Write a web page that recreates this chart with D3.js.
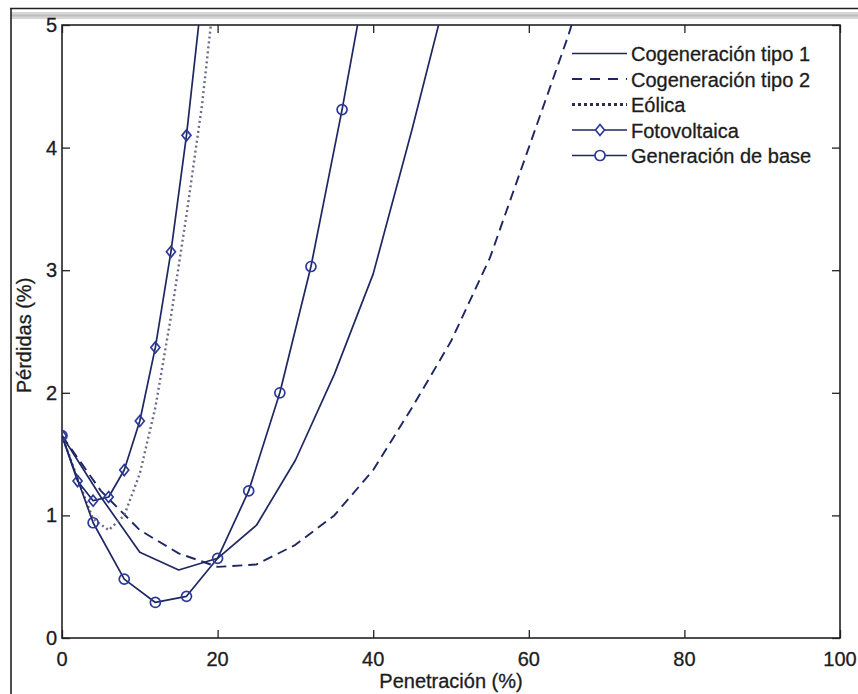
<!DOCTYPE html>
<html>
<head>
<meta charset="utf-8">
<script src="https://cdn.jsdelivr.net/npm/d3@7"></script>
<style>
  body { margin: 0; background: #fff; }
  svg { display: block; }
  text { font-family: "Liberation Sans", Arial, Helvetica, sans-serif; fill: #1c1c1c; stroke: #1c1c1c; stroke-width: 0.3; }
</style>
</head>
<body>
<svg id="chart" width="858" height="694"></svg>
<script>
// --- data ---
var xTicks = [0, 20, 40, 60, 80, 100];
var yTicks = [0, 1, 2, 3, 4, 5];

var penCog1  = [0, 5, 10, 15, 20, 25, 30, 35, 40, 45, 50];
var lossCog1 = [1.65, 1.15, 0.70, 0.555, 0.65, 0.92, 1.45, 2.15, 2.97, 4.15, 5.4];

var penCog2  = [0, 5, 10, 15, 20, 25, 30, 35, 40, 45, 50, 55, 60, 65, 70];
var lossCog2 = [1.65, 1.2, 0.88, 0.69, 0.58, 0.6, 0.76, 1.0, 1.37, 1.88, 2.42, 3.1, 4.0, 4.9, 5.9];

var penEol  = [0, 2, 4, 6, 8, 10, 12, 14, 16, 18, 20];
var lossEol = [1.65, 1.3, 0.97, 0.88, 1.0, 1.34, 1.88, 2.62, 3.45, 4.35, 5.5];

var penFoto  = [0, 2, 4, 6, 8, 10, 12, 14, 16, 18];
var lossFoto = [1.65, 1.28, 1.12, 1.15, 1.37, 1.77, 2.37, 3.15, 4.1, 5.25];

var penBase  = [0, 4, 8, 12, 16, 20, 24, 28, 32, 36, 40];
var lossBase = [1.65, 0.94, 0.48, 0.29, 0.34, 0.65, 1.2, 2.0, 3.03, 4.31, 5.7];

var seriesNames = ["Cogeneración tipo 1", "Cogeneración tipo 2", "Eólica", "Fotovoltaica", "Generación de base"];

// --- layout ---
var plotLeft = 62, plotRight = 840, plotTop = 25, plotBottom = 638;
var navy = "#1e2762", blue = "#2b3a98";

var svg = d3.select("#chart");

// outer frame of the original figure image
svg.append("rect").attr("x", 11).attr("y", 12).attr("width", 847).attr("height", 7).attr("fill", "#d6d6d6");
svg.append("line").attr("x1", 11).attr("x2", 858).attr("y1", 15.5).attr("y2", 15.5).attr("stroke", "#bdbdbd").attr("stroke-width", 2);
svg.append("line").attr("x1", 10).attr("x2", 858).attr("y1", 8.5).attr("y2", 8.5).attr("stroke", "#222").attr("stroke-width", 1.6);
svg.append("line").attr("x1", 11).attr("x2", 11).attr("y1", 8).attr("y2", 694).attr("stroke", "#222").attr("stroke-width", 1.6);

var x = d3.scaleLinear().domain([0, 100]).range([plotLeft, plotRight]);
var y = d3.scaleLinear().domain([0, 5]).range([plotBottom, plotTop]);

svg.append("clipPath").attr("id", "plotclip")
  .append("rect").attr("x", plotLeft).attr("y", plotTop)
  .attr("width", plotRight - plotLeft).attr("height", plotBottom - plotTop);

// axes, MATLAB style: ticks pointing inward on all four sides
var tickLen = 8;
svg.append("g").attr("transform", "translate(0," + plotBottom + ")")
  .call(d3.axisTop(x).tickValues(xTicks).tickSize(tickLen).tickFormat(""));
svg.append("g").attr("transform", "translate(0," + plotTop + ")")
  .call(d3.axisBottom(x).tickValues(xTicks).tickSize(tickLen).tickFormat(""));
svg.append("g").attr("transform", "translate(" + plotLeft + ",0)")
  .call(d3.axisRight(y).tickValues(yTicks).tickSize(tickLen).tickFormat(""));
svg.append("g").attr("transform", "translate(" + plotRight + ",0)")
  .call(d3.axisLeft(y).tickValues(yTicks).tickSize(tickLen).tickFormat(""));
svg.selectAll(".domain").remove();
svg.selectAll(".tick line").attr("stroke", "#222").attr("stroke-width", 1.3);

svg.append("rect").attr("x", plotLeft).attr("y", plotTop)
  .attr("width", plotRight - plotLeft).attr("height", plotBottom - plotTop)
  .attr("fill", "none").attr("stroke", "#222").attr("stroke-width", 1.6);

// tick labels
svg.append("g").selectAll("text").data(xTicks).join("text")
  .attr("x", function(d) { return x(d); }).attr("y", 666)
  .attr("text-anchor", "middle").attr("font-size", 20).text(function(d) { return d; });
svg.append("g").selectAll("text").data(yTicks).join("text")
  .attr("x", 57).attr("y", function(d) { return y(d) + 7; })
  .attr("text-anchor", "end").attr("font-size", 20).text(function(d) { return d; });

svg.append("text").attr("x", (plotLeft + plotRight) / 2).attr("y", 688)
  .attr("text-anchor", "middle").attr("font-size", 20).text("Penetración (%)");
svg.append("text").attr("transform", "translate(31," + ((plotTop + plotBottom) / 2 + 4) + ") rotate(-90)")
  .attr("text-anchor", "middle").attr("font-size", 20).text("Pérdidas (%)");

// curves
var line = d3.line().x(function(d) { return x(d[0]); }).y(function(d) { return y(d[1]); });
var plot = svg.append("g").attr("clip-path", "url(#plotclip)");

function addLine(xs, ys, color, dash, width) {
  plot.append("path").datum(d3.zip(xs, ys)).attr("d", line)
    .attr("fill", "none").attr("stroke", color).attr("stroke-width", width)
    .attr("stroke-dasharray", dash).attr("stroke-linejoin", "round");
}

addLine(penCog1, lossCog1, navy, null, 1.7);
addLine(penCog2, lossCog2, navy, "10,6", 1.9);
addLine(penEol, lossEol, "#6a6d85", "2,3", 2.4);
addLine(penFoto, lossFoto, navy, null, 1.7);
addLine(penBase, lossBase, navy, null, 1.7);

var diamond = "M0,-5.5L4.5,0L0,5.5L-4.5,0Z";

plot.append("g").selectAll("path").data(d3.zip(penFoto, lossFoto)).join("path")
  .attr("transform", function(d) { return "translate(" + x(d[0]) + "," + y(d[1]) + ")"; })
  .attr("d", diamond).attr("fill", "none").attr("stroke", blue).attr("stroke-width", 1.7);

plot.append("g").selectAll("circle").data(d3.zip(penBase, lossBase)).join("circle")
  .attr("cx", function(d) { return x(d[0]); }).attr("cy", function(d) { return y(d[1]); })
  .attr("r", 5).attr("fill", "none").attr("stroke", blue).attr("stroke-width", 1.7);

// legend (no box)
var legY0 = 53.5, legStep = 25.5, legX1 = 572, legX2 = 627;
var legStyles = [
  { dash: null, color: navy, w: 1.7 },
  { dash: "10,8", color: navy, w: 1.9 },
  { dash: "3,3", color: "#2a2e4a", w: 3 },
  { dash: null, color: navy, w: 1.7, marker: "diamond" },
  { dash: null, color: navy, w: 1.7, marker: "circle" }
];
var leg = svg.append("g");
seriesNames.forEach(function(name, i) {
  var ly = legY0 + i * legStep, s = legStyles[i];
  leg.append("line").attr("x1", legX1).attr("x2", legX2).attr("y1", ly).attr("y2", ly)
    .attr("stroke", s.color).attr("stroke-width", s.w).attr("stroke-dasharray", s.dash);
  if (s.marker === "diamond") {
    leg.append("path").attr("d", diamond).attr("transform", "translate(600," + ly + ")")
      .attr("fill", "#fff").attr("stroke", blue).attr("stroke-width", 1.7);
  } else if (s.marker === "circle") {
    leg.append("circle").attr("cx", 600).attr("cy", ly).attr("r", 5)
      .attr("fill", "#fff").attr("stroke", blue).attr("stroke-width", 1.7);
  }
  leg.append("text").attr("x", 631).attr("y", ly + 7.5).attr("font-size", 20).text(name);
});
</script>
</body>
</html>
